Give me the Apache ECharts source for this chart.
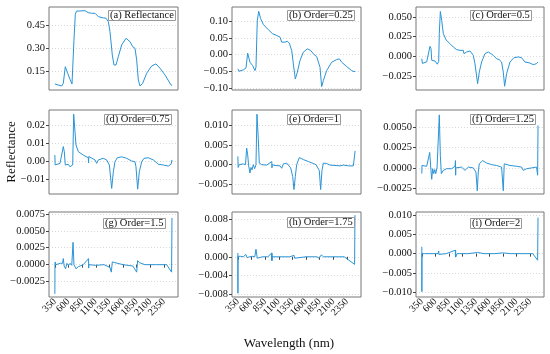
<!DOCTYPE html>
<html>
<head>
<meta charset="utf-8">
<script src="https://cdn.jsdelivr.net/npm/echarts@6/dist/echarts.min.js"></script>
<style>
html,body{margin:0;padding:0;background:#fff;}
#chart{width:550px;height:354px;}
</style>
</head>
<body>
<div id="chart"></div>
<script>
// ---------- data ----------
const panelLabels = ['(a) Reflectance','(b) Order=0.25','(c) Order=0.5','(d) Order=0.75','(e) Order=1','(f) Order=1.25','(g) Order=1.5','(h) Order=1.75','(i) Order=2'];
const xTicks = [350,600,850,1100,1350,1600,1850,2100,2350];

const wlA = [350,384,475,505,541,585,627,664,675,700,725,745,780,902,963,1025,1086,1147,1177,1238,1288,1330,1361,1403,1434,1471,1513,1575,1654,1728,1777,1819,1850,1880,1911,1960,2033,2125,2204,2277,2369,2479,2500];
const valA = [0.065,0.052,0.052,0.07,0.178,0.135,0.096,0.065,0.075,0.35,0.52,0.54,0.543,0.543,0.53,0.526,0.526,0.504,0.491,0.496,0.494,0.471,0.406,0.254,0.189,0.189,0.243,0.32,0.363,0.341,0.308,0.298,0.222,0.091,0.052,0.07,0.135,0.183,0.196,0.168,0.124,0.059,0.055];

const wlB = [350,371,450,499,530,541,572,621,664,682,706,732,768,816,908,988,1062,1123,1153,1214,1256,1293,1337,1367,1403,1440,1489,1550,1624,1685,1746,1795,1825,1856,1886,1917,1978,2070,2162,2210,2254,2345,2437,2479,2500];
const valB = [-0.043,-0.05,-0.046,-0.04,0.004,0.007,-0.023,-0.033,-0.048,-0.038,0.101,0.129,0.107,0.09,0.074,0.062,0.057,0.052,0.037,0.037,0.04,0.034,0.012,-0.028,-0.073,-0.053,-0.018,0.007,0.017,0.012,0.0,-0.006,-0.003,-0.038,-0.096,-0.078,-0.048,-0.023,-0.015,-0.013,-0.023,-0.036,-0.048,-0.051,-0.05];

const wlC = [350,360,377,440,470,501,520,533,594,636,662,673,692,717,747,797,871,932,994,1024,1055,1116,1129,1178,1240,1301,1332,1381,1412,1455,1517,1578,1627,1670,1731,1780,1824,1855,1880,1917,1979,2052,2132,2193,2254,2347,2408,2469,2495];
const valC = [-0.003,-0.009,-0.0085,-0.007,-0.006,0.0127,0.0098,-0.005,-0.006,-0.010,-0.0064,0.0289,0.057,0.0458,0.029,0.021,0.016,0.0118,0.0085,0.0098,0.0076,0.0076,0.0034,0.0055,0.0068,0.0013,-0.0093,-0.0347,-0.02,-0.0072,0.0034,0.0055,0.0034,0.0013,-0.003,-0.0042,-0.0072,-0.02,-0.038,-0.022,-0.0072,-0.0017,-0.0008,-0.0017,-0.0072,-0.0085,-0.0106,-0.0093,-0.0072];

const wlD = [350,355,384,444,475,505,523,541,566,596,627,658,677,695,719,737,780,871,963,968,972,1007,1086,1117,1147,1238,1300,1349,1392,1422,1452,1495,1575,1667,1758,1819,1837,1868,1898,1942,1984,2063,2155,2247,2338,2430,2480,2497];
const valD = [0.0033,-0.0022,-0.0018,-0.0013,-0.0007,0.008,0.0052,-0.0022,-0.0032,-0.0018,-0.0032,-0.0026,-0.0022,0.026,0.0163,0.0089,0.0052,0.0033,0.0018,-0.001,0.0025,0.0015,0.0006,-0.0013,0.0006,0.0015,0.0006,-0.0022,-0.0152,-0.006,-0.0004,0.0018,0.0023,0.0015,0.0,-0.0004,-0.0032,-0.0156,-0.006,-0.0004,0.0015,0.0018,0.0006,-0.0018,-0.0022,-0.0028,-0.0018,0.0006];

const wlE = [350,355,376,450,490,511,530,548,572,590,609,633,658,682,700,724,743,787,878,972,975,978,1031,1123,1153,1184,1245,1318,1355,1379,1403,1428,1477,1550,1642,1734,1783,1800,1815,1843,1868,1892,1917,1978,2039,2223,2284,2376,2467,2493,2500];
const valE = [0.0021,-0.0007,0.0,0.0002,0.0,0.0042,0.0025,-0.0003,-0.0021,-0.0007,-0.0013,0.0,-0.001,0.0,0.0128,0.0067,0.0004,0.0,-0.0001,0.0008,-0.0008,0.0,-0.0002,-0.0003,-0.0009,0.0002,0.0004,-0.0008,-0.003,-0.0063,-0.003,0.0,0.0018,0.0013,0.0008,0.0003,0.0,-0.0004,0.0002,-0.0015,-0.0063,-0.0015,0.0004,0.0003,-0.0001,-0.0003,-0.0001,-0.0003,-0.0003,-0.0003,0.0035];

const wlF = [350,353,377,440,470,496,514,533,550,570,590,607,632,662,673,692,711,747,809,901,963,972,975,978,994,1086,1147,1209,1301,1350,1375,1393,1412,1474,1547,1639,1731,1824,1855,1873,1898,1978,2101,2193,2224,2285,2378,2470,2490,2497];
const valF = [-0.0007,0.0003,0.0001,0.0002,0.0001,0.0019,0.0001,-0.0014,-0.0001,-0.0007,-0.0002,-0.0007,0.0001,0.0003,0.0065,0.0015,-0.0007,-0.0003,-0.0001,-0.0001,0.0002,0.0009,-0.0009,0.0,-0.0001,0.0001,-0.0003,0.0001,0.0,-0.0005,-0.0028,-0.0005,0.0005,0.0009,0.0006,0.0004,0.0003,0.0001,-0.0028,0.0005,0.0006,0.0003,0.0002,0.0001,-0.0003,-0.0001,0.0,0.0001,-0.0009,0.0052];

const wlG = [350,352,356,370,400,450,490,505,520,547,570,600,630,660,683,700,737,780,870,968,970,972,1000,1100,1250,1361,1385,1403,1450,1600,1780,1850,1868,1900,2000,2200,2400,2490,2497];
const valG = [-0.0043,0.0001,0.0004,0.0,0.0001,0.0002,0.0002,0.0009,-0.0002,-0.0006,0.0002,-0.0001,0.0002,-0.0001,0.0033,0.0,-0.0006,-0.0003,0.0,0.0009,-0.0005,0.0,0.0,-0.0001,0.0,-0.0004,-0.0011,0.0004,0.0003,0.0,-0.0002,-0.0011,0.0006,0.0003,0.0,0.0,0.0,-0.0011,0.0069];

const wlH = [350,351,353,370,400,450,497,520,560,620,660,682,706,740,800,900,970,972,974,976,978,1000,1100,1300,1380,1390,1420,1600,1800,1840,1860,1880,1920,2100,2300,2490,2497];
const valH = [0.0008,-0.0077,0.0001,0.0,0.0001,0.0,0.0005,-0.0002,0.0,0.0001,0.0,0.0016,-0.0003,0.0,0.0,0.0,0.0008,-0.0008,0.0008,-0.0008,0.0,0.0,0.0,0.0,0.0003,-0.0003,0.0,0.0,0.0,-0.0003,0.0,0.0004,0.0,0.0,0.0,-0.0016,0.0088];

const wlI = [350,351,353,400,500,650,662,666,700,800,970,972,974,976,1000,1200,1380,1385,1390,1500,1700,1840,1845,1850,1860,2000,2200,2400,2490,2497];
const valI = [0.0018,-0.0099,0.0,0.0,0.0,0.0,0.0007,-0.0002,0.0,0.0,0.0009,-0.0009,0.0009,-0.0009,0.0,0.0,0.0003,-0.0001,0.0,0.0,0.0,0.0002,-0.0003,0.0002,0.0,0.0,0.0,0.0,-0.0017,0.0094];

const yTicksA = [0.15,0.30,0.45];
const yTicksB = [-0.10,-0.05,0.00,0.05,0.10];
const yTicksC = [-0.025,0.000,0.025,0.050];
const yTicksD = [-0.01,0.00,0.01,0.02];
const yTicksE = [-0.005,0.000,0.005,0.010];
const yTicksF = [-0.0025,0.0000,0.0025,0.0050];
const yTicksG = [-0.0025,0.0000,0.0025,0.0050,0.0075];
const yTicksH = [-0.008,-0.004,0.000,0.004,0.008];
const yTicksI = [-0.010,-0.005,0.000,0.005,0.010];

// ---------- layout ----------
const FONT = 'Liberation Serif';
const LINE = '#2a94d6';
const colLeft = [49, 232, 416];
const colWidth = [129, 129, 128];
const rowTop = [7, 110, 212];
const rowHeight = [83, 84, 85];
const yRange = [[0.026,0.567],[-0.106,0.142],[-0.0428,0.0627],[-0.0183,0.0283],[-0.00743,0.01386],[-0.0032,0.0071],[-0.00477,0.00777],[-0.0085,0.00947],[-0.0113,0.01086]];
const yDec = [2,2,3,2,3,4,4,3,3];
const boxPos = [[108,10],[287,10],[470,10],[104,114],[287,114],[470,114],[103,218],[287,217],[470,218]];

const wls = [wlA,wlB,wlC,wlD,wlE,wlF,wlG,wlH,wlI];
const vals = [valA,valB,valC,valD,valE,valF,valG,valH,valI];
const yTicks = [yTicksA,yTicksB,yTicksC,yTicksD,yTicksE,yTicksF,yTicksG,yTicksH,yTicksI];
// labels split over two stacked axes so the library does not drop neighbours
const xLabelsEven = xTicks.filter((v, k) => k % 2 === 0);
const xLabelsOdd = xTicks.filter((v, k) => k % 2 === 1);

const xLabelStyle = (vals) => ({show: true, customValues: vals, rotate: 45, fontFamily: FONT, fontSize: 10, color: '#111', margin: 3,
  hideOverlap: false, showMinLabel: true, showMaxLabel: true, formatter: v => String(Math.round(v))});

const grid = [], xAxis = [], yAxis = [], series = [], title = [];
for (let i = 0; i < 9; i++) {
  const r = Math.floor(i / 3), c = i % 3;
  const bottom = r === 2;
  grid.push({left: colLeft[c], top: rowTop[r], width: colWidth[c], height: rowHeight[r],
    show: true, borderColor: '#777', borderWidth: 1, backgroundColor: 'transparent', containLabel: false});
  xAxis.push({type: 'value', gridIndex: i, min: 242.5, max: 2607.5, position: 'bottom',
    axisLine: {show: false}, splitLine: {show: false},
    axisTick: {show: bottom, customValues: xTicks, length: 3, lineStyle: {color: '#444'}},
    axisLabel: bottom ? xLabelStyle(xLabelsEven) : {show: false}
  });
  const d = yDec[i];
  yAxis.push({type: 'value', gridIndex: i, min: yRange[i][0], max: yRange[i][1],
    axisLine: {show: false},
    axisTick: {show: true, customValues: yTicks[i], length: 3, lineStyle: {color: '#444'}},
    axisLabel: {customValues: yTicks[i], fontFamily: FONT, fontSize: 10.5, color: '#111', margin: 4,
      showMinLabel: true, showMaxLabel: true, hideOverlap: false,
      formatter: v => (v < -1e-12 ? '\u2212' : '') + Math.abs(v).toFixed(d)},
    splitLine: {show: true, lineStyle: {type: [1, 2], color: '#cfcfcf', width: 0.8}}
  });
  series.push({type: 'line', xAxisIndex: i, yAxisIndex: i, showSymbol: false, symbol: 'none',
    lineStyle: {color: LINE, width: 1}, silent: true, animation: false,
    data: wls[i].map((w, k) => [w, vals[i][k]])});
  title.push({text: panelLabels[i], left: boxPos[i][0], top: boxPos[i][1], padding: [0, 2],
    borderColor: '#999', borderWidth: 1, backgroundColor: '#fff',
    textStyle: {fontFamily: FONT, fontSize: 10.5, fontWeight: 'normal', color: '#111', lineHeight: 11}});
}
for (let i = 6; i < 9; i++) {
  xAxis.push({type: 'value', gridIndex: i, min: 242.5, max: 2607.5, position: 'bottom', offset: 0,
    axisLine: {show: false}, splitLine: {show: false}, axisTick: {show: false},
    axisLabel: xLabelStyle(xLabelsOdd)});
}

const chart = echarts.init(document.getElementById('chart'), null, {renderer: 'canvas'});
chart.setOption({
  animation: false,
  backgroundColor: '#fff',
  title, grid, xAxis, yAxis, series,
  graphic: [
    {type: 'text', x: 12, y: 152, rotation: Math.PI / 2,
      style: {text: 'Reflectance', font: '13px "Liberation Serif"', fill: '#111', textAlign: 'center', textVerticalAlign: 'middle'}},
    {type: 'text', x: 289, y: 344,
      style: {text: 'Wavelength (nm)', font: '13px "Liberation Serif"', fill: '#111', textAlign: 'center', textVerticalAlign: 'middle'}}
  ]
});
</script>
</body>
</html>
